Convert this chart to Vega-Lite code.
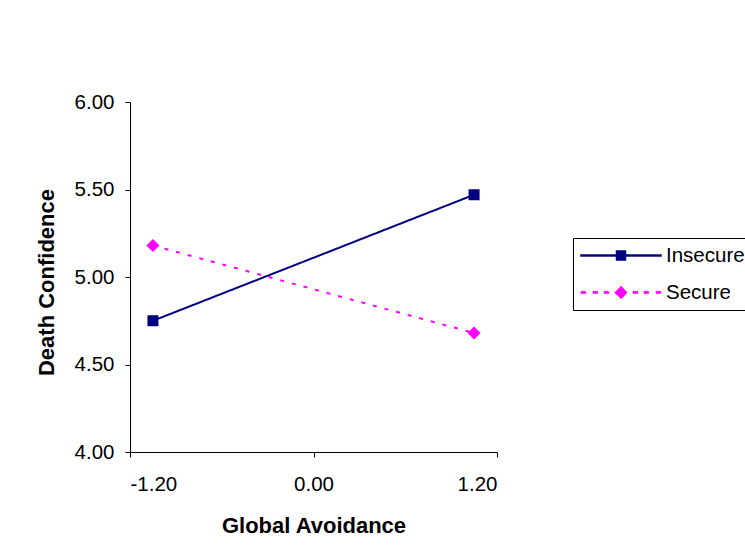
{
  "$schema": "https://vega.github.io/schema/vega-lite/v6.json",
  "width": 367,
  "height": 350,
  "autosize": "none",
  "padding": {"left": 130, "top": 102, "right": 248, "bottom": 106},
  "background": "white",
  "config": {
    "view": {"stroke": null},
    "font": "Liberation Sans",
    "axis": {
      "grid": false,
      "domainColor": "#000000",
      "tickColor": "#000000",
      "labelColor": "#000000",
      "titleColor": "#000000",
      "labelFont": "Liberation Sans",
      "titleFont": "Liberation Sans",
      "labelFontSize": 20.5,
      "titleFontSize": 22,
      "titleFontWeight": "bold",
      "tickSize": 5,
      "domainWidth": 1,
      "tickWidth": 1
    }
  },
  "data": {
    "values": [
      {"group": "Insecure", "avoidance": -1.05, "confidence": 4.75},
      {"group": "Insecure", "avoidance": 1.05, "confidence": 5.47},
      {"group": "Secure", "avoidance": -1.05, "confidence": 5.18},
      {"group": "Secure", "avoidance": 1.05, "confidence": 4.68}
    ]
  },
  "encoding": {
    "x": {
      "field": "avoidance",
      "type": "quantitative",
      "scale": {"domain": [-1.2, 1.2], "nice": false, "zero": false},
      "axis": {
        "values": [-1.2, 0, 1.2],
        "labelExpr": "datum.value < 0 ? '-' + format(-datum.value, '.2f') : format(datum.value, '.2f')",
        "labelPadding": 17,
        "title": "Global Avoidance",
        "titleY": 80,
        "titleBaseline": "alphabetic"
      }
    },
    "y": {
      "field": "confidence",
      "type": "quantitative",
      "scale": {"domain": [4, 6], "nice": false, "zero": false},
      "axis": {
        "values": [4, 4.5, 5, 5.5, 6],
        "format": ".2f",
        "labelPadding": 11,
        "title": "Death Confidence",
        "titleAngle": -90,
        "titleX": -77,
        "titleY": 180,
        "titleAlign": "center",
        "titleBaseline": "alphabetic"
      }
    },
    "color": {
      "field": "group",
      "type": "nominal",
      "scale": {"domain": ["Insecure", "Secure"], "range": ["#000080", "#FF00FF"]},
      "legend": {
        "title": null,
        "orient": "none",
        "legendX": 443,
        "legendY": 136,
        "strokeColor": "#000000",
        "padding": 7,
        "symbolSize": 400,
        "symbolOffset": 30.5,
        "labelOffset": 34.5,
        "rowPadding": 16,
        "labelFontSize": 20.5,
        "labelFont": "Liberation Sans",
        "labelColor": "#000000",
        "symbolStrokeWidth": 2,
        "encoding": {
          "symbols": {
            "shape": {
              "condition": {"test": "datum.value === 'Insecure'", "value": "M-4.05,-0.1H4.05V0.1H-4.05ZM-0.5,-0.5H0.5V0.5H-0.5Z"},
              "value": "M-4,-0.13H-3.5V0.13H-4ZM-2.8,-0.13H-2.3V0.13H-2.8ZM-1.7,-0.13H-1.2V0.13H-1.7ZM1.2,-0.13H1.7V0.13H1.2ZM2.3,-0.13H2.8V0.13H2.3ZM3.5,-0.13H4V0.13H3.5ZM0,-0.65L0.65,0L0,0.65L-0.65,0Z"
            },
            "fill": {
              "condition": {"test": "datum.value === 'Insecure'", "value": "#000080"},
              "value": "#FF00FF"
            },
            "stroke": {
              "condition": {"test": "datum.value === 'Insecure'", "value": "#000080"},
              "value": "#FF00FF"
            },
            "strokeWidth": {"value": 0.5},
            "strokeDash": {"value": [1, 0]},
            "opacity": {"value": 1},
            "fillOpacity": {"value": 1},
            "strokeOpacity": {"value": 1}
          }
        }
      }
    }
  },
  "layer": [
    {
      "mark": {"type": "line", "strokeWidth": 2},
      "encoding": {
        "strokeDash": {
          "field": "group",
          "type": "nominal",
          "scale": {"domain": ["Insecure", "Secure"], "range": [[1, 0], [4, 8]]},
          "legend": null
        }
      }
    },
    {
      "transform": [{"filter": "datum.group === 'Insecure'"}],
      "mark": {"type": "point", "filled": true, "opacity": 1, "shape": "square", "size": 121}
    },
    {
      "transform": [{"filter": "datum.group === 'Secure'"}],
      "mark": {"type": "point", "filled": true, "opacity": 1, "shape": "diamond", "size": 170}
    }
  ]
}
